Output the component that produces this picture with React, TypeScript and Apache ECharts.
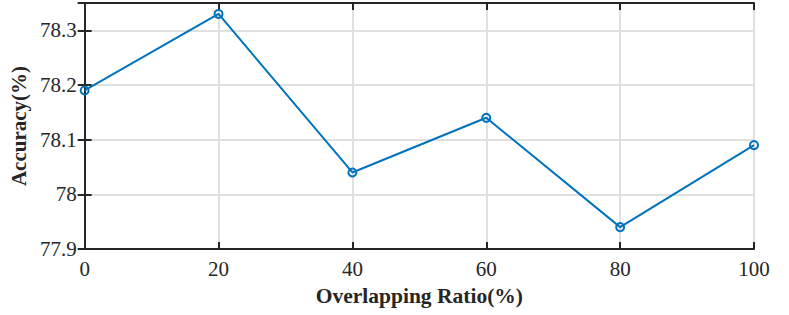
import React, { useEffect, useRef } from "react";
import * as echarts from "echarts";

const ratios = [0, 20, 40, 60, 80, 100];
const accuracy = [78.19, 78.33, 78.04, 78.14, 77.94, 78.09];
const xTitle = "Overlapping Ratio(%)";
const yTitle = "Accuracy(%)";

const FONT = "'Liberation Serif', 'Times New Roman', Times, serif";
const AXIS = "#262626";
const GRID = "#e0e0e0";
const BLUE = "#0072BD";

export default function App() {
  const ref = useRef<HTMLDivElement>(null);
  useEffect(() => {
    if (!ref.current) return;
    const chart = echarts.init(ref.current, undefined, { renderer: "svg" });
    const fmtY = (v: number) => String(parseFloat(v.toFixed(1)));
    chart.setOption({
      animation: false,
      backgroundColor: "#ffffff",
      textStyle: { fontFamily: FONT },
      grid: { left: 81, top: 3, right: 35, bottom: 66, containLabel: false },
      xAxis: [
        {
          type: "value",
          min: 0,
          max: 100,
          interval: 20,
          name: xTitle,
          nameLocation: "middle",
          nameGap: 36,
          nameTextStyle: { fontFamily: FONT, fontSize: 21.5, fontWeight: "bold", color: AXIS },
          axisLine: { show: true, lineStyle: { color: AXIS, width: 2 } },
          axisTick: { show: true, inside: true, length: 7, lineStyle: { color: AXIS, width: 2 } },
          axisLabel: { fontFamily: FONT, fontSize: 21, color: AXIS, margin: 9 },
          splitLine: { show: true, lineStyle: { color: GRID, width: 2 } },
        },
        {
          type: "value",
          position: "top",
          min: 0,
          max: 100,
          interval: 20,
          axisLine: { show: true, lineStyle: { color: AXIS, width: 2 } },
          axisTick: { show: true, inside: true, length: 7, lineStyle: { color: AXIS, width: 2 } },
          axisLabel: { show: false },
          splitLine: { show: false },
        },
      ],
      yAxis: [
        {
          type: "value",
          min: 77.9,
          max: 78.35,
          interval: 0.1,
          name: yTitle,
          nameLocation: "middle",
          nameGap: 54,
          nameRotate: 90,
          nameTextStyle: { fontFamily: FONT, fontSize: 21, fontWeight: "bold", color: AXIS },
          axisLine: { show: true, lineStyle: { color: AXIS, width: 2 } },
          axisTick: { show: true, inside: true, length: 7, lineStyle: { color: AXIS, width: 2 } },
          axisLabel: {
            fontFamily: FONT,
            fontSize: 21,
            color: AXIS,
            margin: 8,
            showMaxLabel: false,
            formatter: (v: number) => fmtY(v),
          },
          splitLine: { show: true, lineStyle: { color: GRID, width: 2 } },
        },
        {
          type: "value",
          position: "right",
          min: 77.9,
          max: 78.35,
          interval: 0.1,
          axisLine: { show: true, lineStyle: { color: AXIS, width: 2 } },
          axisTick: { show: true, inside: true, length: 7, lineStyle: { color: AXIS, width: 2 } },
          axisLabel: { show: false },
          splitLine: { show: false },
        },
      ],
      series: [
        {
          type: "line",
          xAxisIndex: 0,
          yAxisIndex: 0,
          data: ratios.map((r, i) => [r, accuracy[i]]),
          color: BLUE,
          lineStyle: { color: BLUE, width: 2 },
          symbol: "circle",
          symbolSize: 8,
          itemStyle: { color: "rgba(255,255,255,0)", borderColor: BLUE, borderWidth: 2 },
          z: 5,
        },
      ],
    });
    return () => chart.dispose();
  }, []);
  return <div ref={ref} style={{ width: 789, height: 315, position: "absolute", left: 0, top: 0 }} />;
}
